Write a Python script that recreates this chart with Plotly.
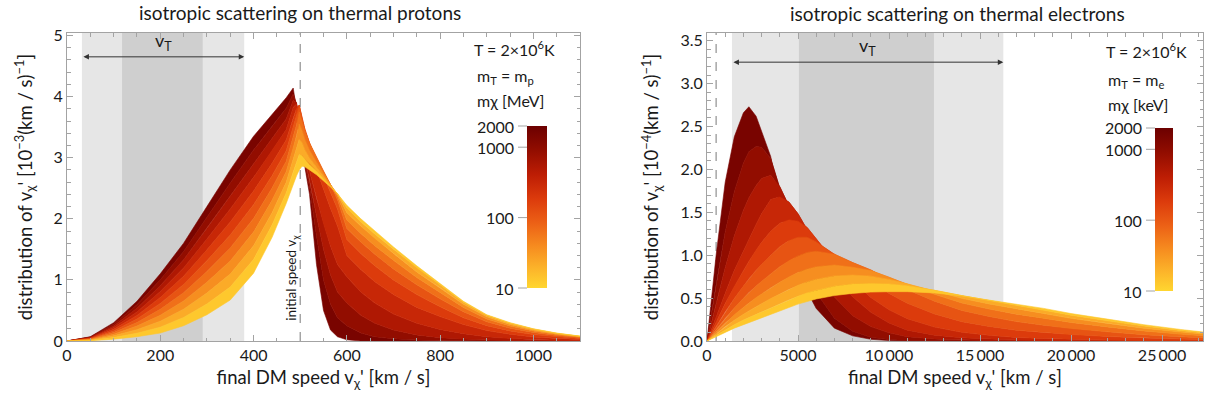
import math
import plotly.graph_objects as go
from plotly.colors import sample_colorscale

# ---------------- figure geometry ----------------
W, H = 1213, 405
ML, MR, MT, MB = 67, 10, 33, 64
FONT = "Lato"
TXT = "#1a1a1a"
FRAME = "#a3a3a3"

# ---------------- data: protons (left) ----------------
MASSES_P = [10, 17, 29, 49, 83, 141, 240, 407, 692, 1176, 2000]  # MeV
V_P = [0, 50, 100, 150, 200, 250, 300, 350, 400, 440, 470,
       485, 492, 498, 504, 510, 520, 535, 550, 565, 580,
       600, 630, 660, 700, 750, 800, 850, 900, 950, 1000, 1050, 1100]
P_10 = [0, 0.005, 0.03, 0.07, 0.13, 0.25, 0.43, 0.67, 1.11, 1.70, 2.25,
        2.55, 2.70, 2.80, 2.86, 2.85, 2.80, 2.72, 2.62, 2.52, 2.41,
        2.22, 2.00, 1.80, 1.54, 1.23, 0.94, 0.65, 0.43, 0.30, 0.20, 0.13, 0.08]
P_17 = [0, 0.012, 0.057, 0.128, 0.227, 0.385, 0.607, 0.883, 1.334, 1.902, 2.423,
        2.77, 2.93, 3.05, 3.03, 2.97, 2.89, 2.78, 2.66, 2.54, 2.41,
        2.18, 1.95, 1.75, 1.50, 1.20, 0.92, 0.635, 0.42, 0.29, 0.195, 0.125, 0.077]
P_29 = [0, 0.018, 0.084, 0.186, 0.324, 0.52, 0.784, 1.096, 1.558, 2.104, 2.596,
        2.97, 3.15, 3.30, 3.25, 3.13, 3.00, 2.85, 2.71, 2.56, 2.40,
        2.10, 1.88, 1.68, 1.43, 1.13, 0.87, 0.60, 0.395, 0.27, 0.18, 0.117, 0.072]
P_49 = [0, 0.025, 0.111, 0.244, 0.421, 0.655, 0.961, 1.309, 1.782, 2.306, 2.769,
        3.15, 3.35, 3.55, 3.45, 3.30, 3.12, 2.93, 2.75, 2.57, 2.37,
        1.98, 1.76, 1.56, 1.32, 1.04, 0.79, 0.55, 0.36, 0.245, 0.165, 0.107, 0.066]
P_83 = [0, 0.031, 0.138, 0.302, 0.518, 0.79, 1.138, 1.522, 2.006, 2.508, 2.942,
        3.33, 3.53, 3.75, 3.60, 3.44, 3.24, 3.00, 2.78, 2.56, 2.31,
        1.84, 1.62, 1.42, 1.18, 0.92, 0.69, 0.48, 0.315, 0.21, 0.14, 0.09, 0.056]
P_141 = [0, 0.038, 0.165, 0.36, 0.615, 0.925, 1.315, 1.735, 2.23, 2.71, 3.115,
         3.50, 3.68, 3.85, 3.66, 3.47, 3.24, 2.97, 2.70, 2.43, 2.16,
         1.66, 1.43, 1.23, 1.00, 0.76, 0.56, 0.38, 0.25, 0.165, 0.105, 0.068, 0.042]
P_240 = [0, 0.044, 0.192, 0.418, 0.712, 1.06, 1.492, 1.948, 2.454, 2.912, 3.288,
         3.65, 3.80, 3.86, 3.60, 3.40, 3.12, 2.80, 2.48, 2.17, 1.88,
         1.40, 1.17, 0.97, 0.76, 0.55, 0.40, 0.27, 0.17, 0.11, 0.065, 0.042, 0.025]
P_407 = [0, 0.051, 0.219, 0.476, 0.809, 1.195, 1.669, 2.161, 2.678, 3.114, 3.461,
         3.82, 3.88, 3.68, 3.35, 3.10, 2.78, 2.33, 1.92, 1.55, 1.25,
         1.05, 0.80, 0.62, 0.44, 0.29, 0.19, 0.12, 0.07, 0.04, 0.022, 0.012, 0.007]
P_692 = [0, 0.057, 0.246, 0.534, 0.906, 1.33, 1.846, 2.374, 2.902, 3.316, 3.634,
         3.94, 3.90, 3.52, 3.15, 2.97, 2.64, 2.05, 1.50, 1.08, 0.80,
         0.62, 0.42, 0.29, 0.18, 0.10, 0.055, 0.03, 0.015, 0.007, 0.003, 0.001, 0]
P_1176 = [0, 0.064, 0.273, 0.592, 1.003, 1.465, 2.023, 2.587, 3.126, 3.518, 3.807,
          4.04, 3.88, 3.38, 3.00, 2.90, 2.53, 1.72, 1.00, 0.60, 0.38,
          0.25, 0.13, 0.07, 0.035, 0.015, 0.006, 0.002, 0, 0, 0, 0, 0]
P_2000 = [0, 0.07, 0.30, 0.65, 1.10, 1.60, 2.20, 2.80, 3.35, 3.72, 3.98,
          4.14, 3.80, 3.30, 2.95, 2.85, 2.40, 1.25, 0.50, 0.18, 0.07,
          0.02, 0, 0, 0, 0, 0, 0, 0, 0, 0, 0, 0]
CURVES_P = [P_10, P_17, P_29, P_49, P_83, P_141, P_240, P_407, P_692, P_1176, P_2000]
BAND_P_LIGHT = [32, 380]
BAND_P_DARK = [118, 291]
XRANGE_P = [0, 1100]
YRANGE_P = [0, 5.04]

# ---------------- data: electrons (right) ----------------
MASSES_E = [10, 17, 29, 49, 83, 141, 240, 407, 692, 1176, 2000]  # keV
V_E = [0, 250, 500, 1000, 1500, 2000, 2300, 2700, 3000, 3500,
       4000, 4500, 5000, 5500, 6000, 7000, 8000, 9000, 10000, 11000,
       12500, 14000, 15500, 17000, 18500, 20000, 22000, 24000, 26000, 27250]
E_10 = [0, 0.025, 0.05, 0.10, 0.15, 0.19, 0.21, 0.25, 0.27, 0.31,
        0.35, 0.39, 0.43, 0.46, 0.49, 0.53, 0.555, 0.57, 0.575, 0.575,
        0.56, 0.525, 0.48, 0.43, 0.38, 0.32, 0.255, 0.19, 0.135, 0.105]
E_17 = [0, 0.033, 0.065, 0.131, 0.189, 0.244, 0.272, 0.312, 0.339, 0.387,
        0.435, 0.482, 0.522, 0.56, 0.59, 0.638, 0.663, 0.67, 0.664, 0.644,
        0.591, 0.529, 0.472, 0.415, 0.361, 0.301, 0.236, 0.175, 0.123, 0.097]
E_29 = [0, 0.042, 0.084, 0.168, 0.242, 0.312, 0.351, 0.40, 0.435, 0.495,
        0.549, 0.604, 0.649, 0.689, 0.719, 0.759, 0.768, 0.756, 0.718, 0.667,
        0.581, 0.497, 0.432, 0.372, 0.32, 0.264, 0.204, 0.149, 0.104, 0.081]
E_49 = [0, 0.053, 0.105, 0.21, 0.306, 0.391, 0.443, 0.506, 0.549, 0.621,
        0.685, 0.746, 0.798, 0.838, 0.865, 0.885, 0.86, 0.821, 0.744, 0.658,
        0.544, 0.443, 0.373, 0.313, 0.264, 0.216, 0.164, 0.117, 0.079, 0.06]
E_83 = [0, 0.066, 0.132, 0.264, 0.386, 0.498, 0.564, 0.64, 0.696, 0.782,
        0.866, 0.934, 0.992, 1.032, 1.046, 1.012, 0.914, 0.828, 0.71, 0.598,
        0.464, 0.356, 0.286, 0.226, 0.184, 0.146, 0.107, 0.073, 0.049, 0.037]
E_141 = [0, 0.085, 0.17, 0.34, 0.495, 0.64, 0.725, 0.825, 0.895, 1.00,
         1.10, 1.17, 1.21, 1.21, 1.155, 1.01, 0.84, 0.695, 0.555, 0.44,
         0.315, 0.225, 0.17, 0.125, 0.098, 0.075, 0.053, 0.034, 0.022, 0.017]
E_240 = [0, 0.11, 0.22, 0.436, 0.636, 0.82, 0.928, 1.06, 1.15, 1.28,
         1.372, 1.412, 1.396, 1.324, 1.188, 0.926, 0.696, 0.508, 0.364, 0.26,
         0.162, 0.101, 0.066, 0.041, 0.029, 0.02, 0.012, 0.006, 0.003, 0.002]
E_407 = [0, 0.144, 0.287, 0.557, 0.824, 1.055, 1.189, 1.362, 1.485, 1.649,
         1.68, 1.62, 1.483, 1.304, 1.114, 0.779, 0.515, 0.334, 0.21, 0.126,
         0.068, 0.037, 0.021, 0.012, 0.007, 0.005, 0.003, 0.001, 0, 0]
E_692 = [0, 0.219, 0.438, 0.856, 1.226, 1.524, 1.669, 1.812, 1.895, 1.932,
         1.798, 1.575, 1.315, 1.062, 0.846, 0.512, 0.295, 0.168, 0.095, 0.05,
         0.024, 0.012, 0.006, 0.003, 0.001, 0, 0, 0, 0, 0]
E_1176 = [0, 0.331, 0.661, 1.273, 1.741, 2.075, 2.206, 2.266, 2.258, 2.127,
          1.781, 1.42, 1.081, 0.788, 0.565, 0.266, 0.114, 0.043, 0.017, 0.005,
          0.001, 0, 0, 0, 0, 0, 0, 0, 0, 0]
E_2000 = [0, 0.50, 1.00, 1.85, 2.38, 2.66, 2.73, 2.62, 2.45, 2.15,
          1.55, 1.15, 0.85, 0.58, 0.38, 0.15, 0.06, 0.02, 0.005, 0,
          0, 0, 0, 0, 0, 0, 0, 0, 0, 0]
CURVES_E = [E_10, E_17, E_29, E_49, E_83, E_141, E_240, E_407, E_692, E_1176, E_2000]
BAND_E_LIGHT = [1370, 16280]
BAND_E_DARK = [5050, 12470]
XRANGE_E = [0, 27250]
YRANGE_E = [0, 3.59]

V_INITIAL = 500
CB_TICKS = [10, 100, 1000, 2000]
XTICKS_E = [0, 5000, 10000, 15000, 20000, 25000]
XTICKTEXT_E = ["0", "5000", "10\u2009000", "15\u2009000", "20\u2009000", "25\u2009000"]

COLORSCALE = [
    [0.00, "#ffd630"], [0.12, "#fcb42a"], [0.26, "#f68b1f"], [0.40, "#ec6116"],
    [0.55, "#dc3b0c"], [0.70, "#bd1d04"], [0.85, "#920d00"], [1.00, "#6c0000"],
]
MMIN, MMAX = 10, 2000


def tnorm(m):
    return (math.log10(m) - math.log10(MMIN)) / (math.log10(MMAX) - math.log10(MMIN))


PW = W - ML - MR
PH = H - MT - MB


def paper(px, py):
    """screenshot pixel -> paper coords"""
    return (px - ML) / PW, (H - MB - py) / PH


fig = go.Figure()


def add_bands(V, curves, masses, xa, ya):
    n = len(curves)
    for k in range(n - 2, -1, -1):  # heaviest pair first, lightest pair on top
        tmid = 0.5 * (tnorm(masses[k]) + tnorm(masses[k + 1]))
        col = sample_colorscale(COLORSCALE, [tmid])[0]
        lo, hi = curves[k], curves[k + 1]
        fig.add_trace(go.Scatter(
            x=list(V) + list(V)[::-1], y=list(hi) + list(lo)[::-1],
            fill="toself", fillcolor=col, mode="lines",
            line=dict(color=col, width=0.6), hoverinfo="skip",
            showlegend=False, xaxis=xa, yaxis=ya))


add_bands(V_P, CURVES_P, MASSES_P, "x", "y")
add_bands(V_E, CURVES_E, MASSES_E, "x2", "y2")

# colorbars (dummy traces); positions in screenshot pixels
CB = [
    dict(xa="x", ya="y", bar_x=527, top=126, bot=288, thick=20),
    dict(xa="x2", ya="y2", bar_x=1155, top=128, bot=291, thick=18),
]
for cb in CB:
    cx, _ = paper(cb["bar_x"], 0)
    _, cy = paper(0, (cb["top"] + cb["bot"]) / 2)
    fig.add_trace(go.Scatter(
        x=[None], y=[None], mode="markers", showlegend=False, hoverinfo="skip",
        xaxis=cb["xa"], yaxis=cb["ya"],
        marker=dict(color=[math.log10(v) for v in CB_TICKS], colorscale=COLORSCALE,
                    cmin=math.log10(MMIN), cmax=math.log10(MMAX), showscale=True,
                    colorbar=dict(x=cx, xanchor="left", y=cy, yanchor="middle",
                                  len=(cb["bot"] - cb["top"]) / PH, lenmode="fraction",
                                  thickness=cb["thick"], thicknessmode="pixels",
                                  xpad=0, ypad=0, outlinewidth=0, showticklabels=False,
                                  ticks=""))))

axis_common = dict(showline=True, linecolor=FRAME, linewidth=1, mirror="ticks",
                   ticks="inside", ticklen=6, tickwidth=1, tickcolor=FRAME,
                   showgrid=False, zeroline=False, automargin=False,
                   tickfont=dict(family=FONT, size=16, color=TXT),
                   title_font=dict(family=FONT, size=18.5, color=TXT))
minor_common = dict(ticks="inside", ticklen=3.5, tickcolor=FRAME, showgrid=False)

dl, _ = paper(67, 0)
dr, _ = paper(580, 0)
dl2, _ = paper(707, 0)
fig.update_layout(
    width=W, height=H, margin=dict(l=ML, r=MR, t=MT, b=MB),
    paper_bgcolor="white", plot_bgcolor="white", template="none",
    font=dict(family=FONT, size=16, color=TXT),
    xaxis=dict(axis_common, domain=[dl, dr], range=XRANGE_P, anchor="y",
               tick0=0, dtick=200, minor=dict(minor_common, tick0=0, dtick=50),
               title=dict(text="final DM speed v<sub>χ</sub>' [km / s]", standoff=7)),
    yaxis=dict(axis_common, domain=[0, 1], range=YRANGE_P, anchor="x",
               tick0=0, dtick=1, minor=dict(minor_common, tick0=0, dtick=0.2),
               title=dict(text="distribution of v<sub>χ</sub>' [10<sup>−3</sup>(km / s)<sup>−1</sup>]",
                          standoff=16)),
    xaxis2=dict(axis_common, domain=[dl2, 1], range=XRANGE_E, anchor="y2",
                tickmode="array", tickvals=XTICKS_E, ticktext=XTICKTEXT_E,
                minor=dict(minor_common, tickmode="linear", tick0=0, dtick=1000),
                title=dict(text="final DM speed v<sub>χ</sub>' [km / s]", standoff=7)),
    yaxis2=dict(axis_common, domain=[0, 1], range=YRANGE_E, anchor="x2",
                tick0=0, dtick=0.5, tickformat=".1f",
                minor=dict(minor_common, tick0=0, dtick=0.1),
                title=dict(text="distribution of v<sub>χ</sub>' [10<sup>−4</sup>(km / s)<sup>−1</sup>]",
                           standoff=16)),
)

shapes = []
for xa, light, dark in (("x", BAND_P_LIGHT, BAND_P_DARK), ("x2", BAND_E_LIGHT, BAND_E_DARK)):
    ya = "y" if xa == "x" else "y2"
    shapes.append(dict(type="rect", xref=xa, yref=f"{ya} domain", x0=light[0], x1=light[1],
                       y0=0, y1=1, fillcolor="#e6e6e6", line=dict(width=0), layer="below"))
    shapes.append(dict(type="rect", xref=xa, yref=f"{ya} domain", x0=dark[0], x1=dark[1],
                       y0=0, y1=1, fillcolor="#cfcfcf", line=dict(width=0), layer="below"))
    shapes.append(dict(type="line", xref=xa, yref=f"{ya} domain", x0=V_INITIAL, x1=V_INITIAL,
                       y0=0, y1=1, line=dict(color="#7a7a7a", width=1, dash="dash"), layer="below"))

annotations = []


def txt(text, px, py, xanchor="left", size=16, **kw):
    x, y = paper(px, py)
    annotations.append(dict(text=text, x=x, y=y, xref="paper", yref="paper",
                            xanchor=xanchor, yanchor="middle", showarrow=False,
                            font=dict(family=FONT, size=size, color=TXT), **kw))


# panel titles
txt("isotropic scattering on thermal protons", 300, 12, "center", 19)
txt("isotropic scattering on thermal electrons", 957, 14, "center", 19)

# parameter labels
txt("T = 2×10<sup>6</sup>K", 472, 48)
txt("m<sub>T</sub> = m<sub>p</sub>", 475, 76)
txt("mχ [MeV]", 475, 100)
txt("T = 2×10<sup>6</sup>K", 1104, 51)
txt("m<sub>T</sub> = m<sub>e</sub>", 1106, 80)
txt("mχ [keV]", 1106, 105)

# colorbar tick labels and ticks
for cb in CB:
    span = math.log10(MMAX) - math.log10(MMIN)
    for v in CB_TICKS:
        py = cb["top"] + (math.log10(MMAX) - math.log10(v)) / span * (cb["bot"] - cb["top"])
        txt(str(v), cb["bar_x"] - 11, py, "right", 16)
        x0, yy = paper(cb["bar_x"] - 9, py)
        x1, _ = paper(cb["bar_x"], py)
        shapes.append(dict(type="line", xref="paper", yref="paper", x0=x0, x1=x1, y0=yy, y1=yy,
                           line=dict(color=FRAME, width=1)))

# v_T arrows and labels
for xa, ya, light, yarrow, ylab in (("x", "y", BAND_P_LIGHT, 4.65, 4.90),
                                     ("x2", "y2", BAND_E_LIGHT, 3.25, 3.43)):
    annotations.append(dict(x=light[1], y=yarrow, ax=light[0], ay=yarrow, xref=xa, yref=ya,
                            axref=xa, ayref=ya, text="", showarrow=True, arrowhead=2,
                            startarrowhead=2, arrowside="end+start", arrowsize=1.1,
                            startarrowsize=1.1, arrowwidth=1, arrowcolor="#333"))
    annotations.append(dict(x=(light[0] + light[1]) / 2, y=ylab, xref=xa, yref=ya,
                            text="v<sub>T</sub>", showarrow=False, yanchor="middle",
                            font=dict(family=FONT, size=18, color=TXT)))

# initial speed label
annotations.append(dict(x=482, y=1.03, xref="x", yref="y", text="initial speed v<sub>χ</sub>",
                        showarrow=False, textangle=-90,
                        font=dict(family=FONT, size=13.5, color=TXT)))

fig.update_layout(shapes=shapes, annotations=annotations)
# remove the browser's default 8px body margin so the figure sits at the page origin
fig.write_html("out.html", include_plotlyjs=True,
               config={"displayModeBar": False},
               post_script="document.body.style.margin='0px';document.body.style.overflow='hidden';")
